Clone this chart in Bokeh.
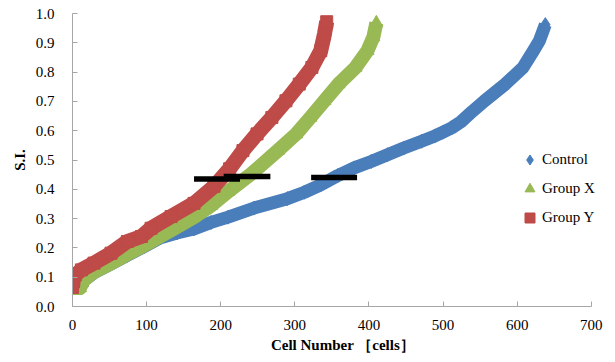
from bokeh.plotting import figure
from bokeh.models import Legend, LegendItem, NumeralTickFormatter, FixedTicker, Range1d
from bokeh.embed import file_html
from bokeh.resources import INLINE

# ---- data ----
ctrl_x = [0, 10, 16, 29, 52, 74, 97, 119, 141, 164, 187, 210, 245, 290, 313, 335, 358,
          380, 403, 425, 447, 471, 489, 500, 512, 524, 540, 556, 584, 608, 622, 630, 635, 638]
ctrl_y = [0.063, 0.063, 0.09, 0.115, 0.145, 0.175, 0.205, 0.235, 0.251, 0.265, 0.287, 0.305,
          0.336, 0.368, 0.390, 0.415, 0.447, 0.473, 0.495, 0.518, 0.541, 0.564, 0.582, 0.595,
          0.610, 0.630, 0.667, 0.702, 0.759, 0.816, 0.873, 0.907, 0.941, 0.962]

grpx_x = [0, 10, 13, 16, 29, 52, 74, 97, 119, 140, 164, 187, 210, 241, 277, 302, 321,
          340, 359, 382, 398, 406, 410]
grpx_y = [0.063, 0.063, 0.08, 0.092, 0.118, 0.147, 0.178, 0.208, 0.24, 0.27, 0.305, 0.344,
          0.392, 0.452, 0.532, 0.589, 0.645, 0.702, 0.759, 0.816, 0.873, 0.92, 0.968]

grpy_x = [0, 1, 4, 12, 29, 52, 74, 93, 106, 133, 164, 191, 212, 230, 249, 269, 288, 306,
          323, 335, 340, 343]
grpy_y = [0.065, 0.09, 0.108, 0.125, 0.148, 0.182, 0.222, 0.239, 0.267, 0.307, 0.352, 0.41,
          0.47, 0.532, 0.589, 0.645, 0.702, 0.759, 0.816, 0.873, 0.930, 0.972]

bar_x0 = [164, 204, 322]
bar_x1 = [226, 267, 384]
bar_y = [0.435, 0.444, 0.44]

x_ticks = [0, 100, 200, 300, 400, 500, 600, 700]
y_ticks = [0.0, 0.1, 0.2, 0.3, 0.4, 0.5, 0.6, 0.7, 0.8, 0.9, 1.0]

BLUE = "#4a7ebb"
GREEN = "#98b954"
RED = "#be4b48"
AXIS = "#a6a6a6"
FONT = "Liberation Serif"
TXT = "#000000"

p = figure(width=615, height=362, x_range=Range1d(0, 730), y_range=Range1d(0, 1),
           output_backend="svg", toolbar_location=None,
           min_border_left=72, min_border_right=2, min_border_top=13, min_border_bottom=56)
p.outline_line_color = None
p.grid.visible = False
p.background_fill_color = "white"
p.border_fill_color = "white"

for ax in (p.xaxis[0], p.yaxis[0]):
    ax.axis_line_color = AXIS
    ax.major_tick_line_color = AXIS
    ax.major_tick_in = 5
    ax.major_tick_out = 0
    ax.minor_tick_line_color = None
    ax.major_label_text_font = FONT
    ax.major_label_text_font_size = "15px"
    ax.major_label_text_color = TXT
    ax.axis_label_text_font = FONT
    ax.axis_label_text_font_style = "bold"
    ax.axis_label_text_font_size = "15px"
    ax.axis_label_text_color = TXT

p.xaxis[0].bounds = (0, 700)
p.yaxis[0].bounds = (0, 1)
p.xaxis[0].ticker = FixedTicker(ticks=x_ticks)
p.yaxis[0].ticker = FixedTicker(ticks=y_ticks)
p.yaxis[0].formatter = NumeralTickFormatter(format="0.0")
p.xaxis[0].major_label_standoff = 13
p.xaxis[0].axis_label_standoff = 4
p.yaxis[0].major_label_standoff = 18
p.yaxis[0].axis_label_standoff = 5
p.xaxis[0].axis_label = "Cell Number ［cells］"
p.yaxis[0].axis_label = "S.I."

# Control
p.line(ctrl_x, ctrl_y, line_color=BLUE, line_width=13, line_join="round")
r_ctrl = p.scatter(ctrl_x, ctrl_y, marker="diamond", size=14,
                   fill_color=BLUE, line_color=BLUE)
# Group X
p.line(grpx_x, grpx_y, line_color=GREEN, line_width=14, line_join="round")
r_gx = p.scatter(grpx_x, grpx_y, marker="triangle", size=13,
                 fill_color=GREEN, line_color=GREEN)
# Group Y
p.line(grpy_x, grpy_y, line_color=RED, line_width=15, line_join="round")
r_gy = p.scatter(grpy_x, grpy_y, marker="square", size=12,
                 fill_color=RED, line_color=RED)

# median bars
p.segment(x0=bar_x0, y0=bar_y, x1=bar_x1, y1=bar_y, line_color="black", line_width=5.5)

legend = Legend(items=[LegendItem(label="Control", renderers=[r_ctrl]),
                       LegendItem(label="Group X", renderers=[r_gx]),
                       LegendItem(label="Group Y", renderers=[r_gy])],
                location=(445, 76), glyph_width=25, glyph_height=25, label_height=25,
                label_standoff=-2, spacing=4, padding=0, margin=0,
                border_line_color=None, background_fill_alpha=0,
                label_text_font=FONT, label_text_font_size="15px",
                label_text_color=TXT)
p.add_layout(legend)

open("out.html", "w").write(file_html(p, INLINE))
